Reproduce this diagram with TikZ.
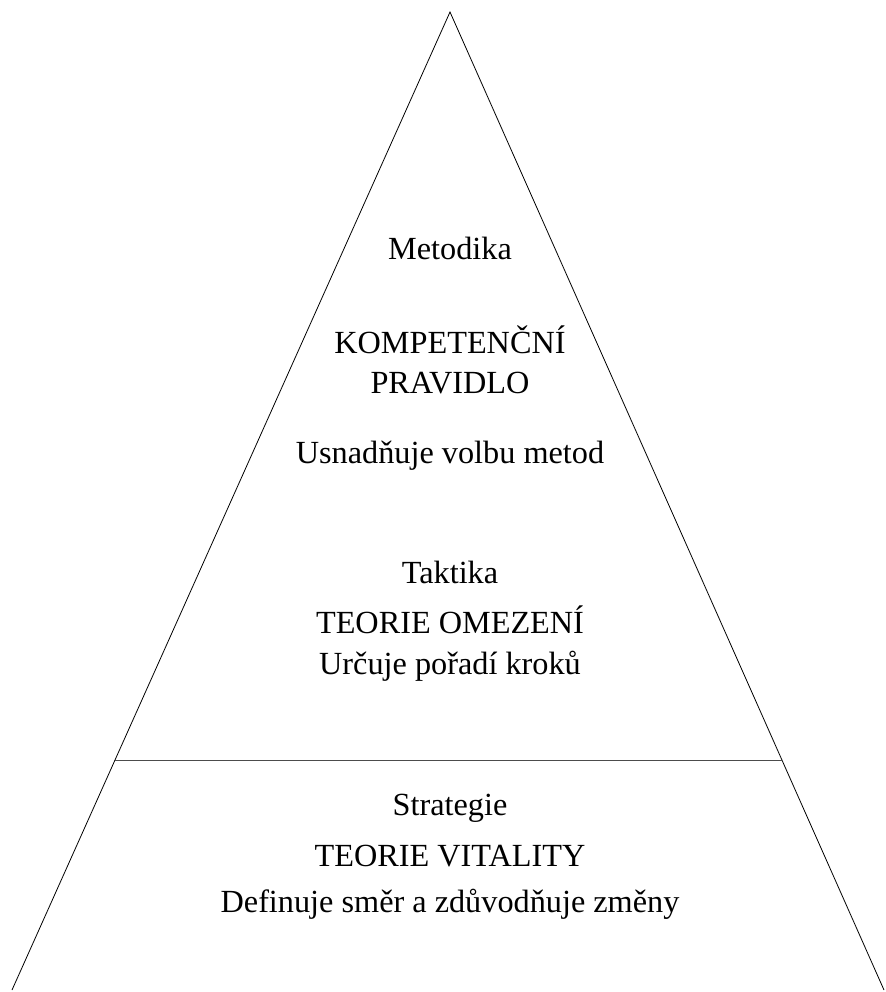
\documentclass[tikz,border=0pt]{standalone}
\usepackage{fontspec}
\setmainfont{Liberation Serif}
\usetikzlibrary{calc}

\begin{document}
\begin{tikzpicture}[x=0.75pt,y=-0.75pt,line width=0.6pt,
    lbl/.style={align=center,inner sep=0pt,font=\fontsize{24.2}{30}\selectfont}]
  \useasboundingbox (0,0) rectangle (885,992);
  \coordinate(T)at(450,12);\coordinate(L)at(12,990);\coordinate(R)at(884,990);
  \coordinate(SL)at($(T)!0.7648!(L)$);\coordinate(SR)at($(T)!0.7648!(R)$);
  \draw(L)--(T)--(R);
  \draw[black!70](SL)--(SR);
  \foreach \nm/\py/\txt in {met/248/Metodika, kp/360/KOMPETENČNÍ\\PRAVIDLO,
                            usn/456/Usnadňuje volbu metod, tak/572/Taktika,
                            tom/620/TEORIE OMEZENÍ, urc/666/Určuje pořadí kroků,
                            str/808/Strategie, tvi/856/TEORIE VITALITY,
                            def/904/Definuje směr a zdůvodňuje změny}
    \node[lbl](\nm)at(450,\py){\txt};
\end{tikzpicture}
\end{document}
